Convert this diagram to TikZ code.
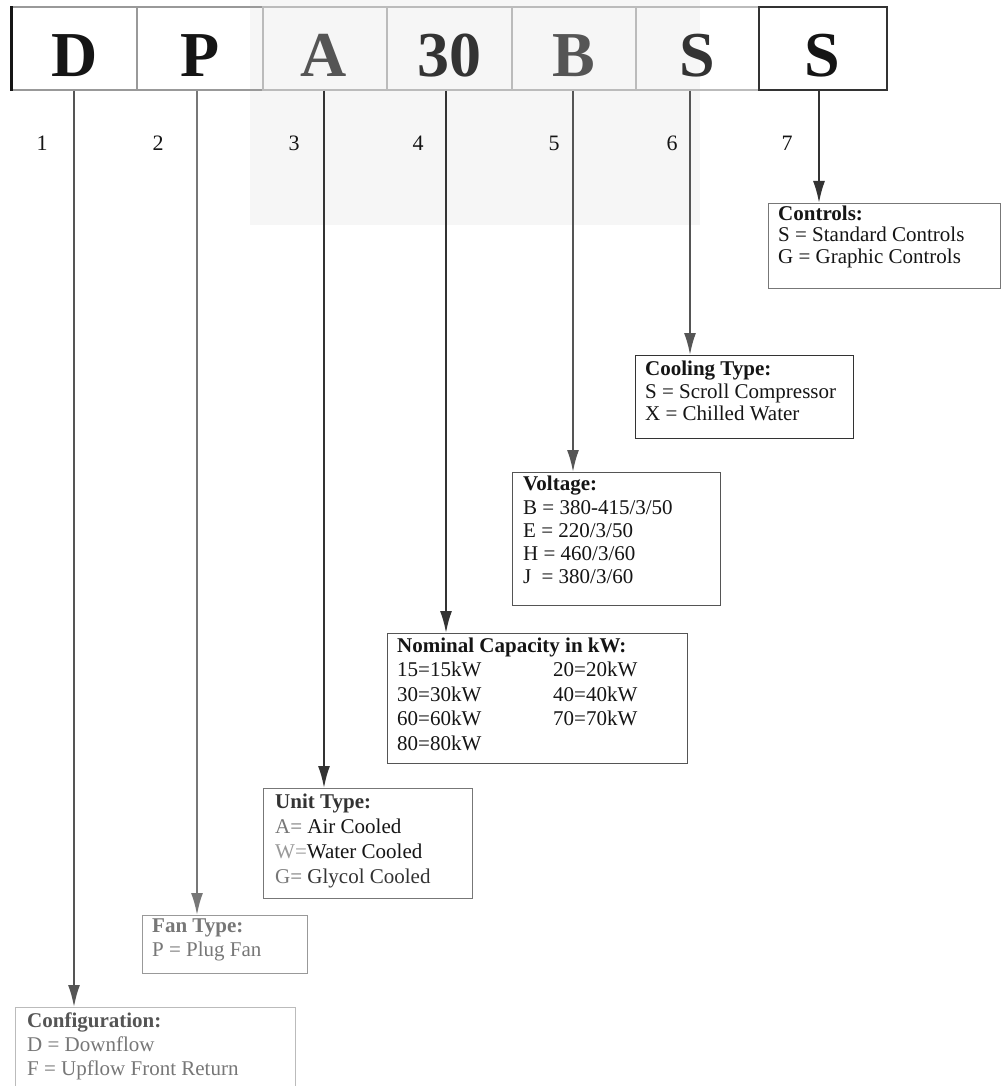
\documentclass[tikz,border=0pt]{standalone}
\usepackage{fontspec}
\setmainfont{Liberation Serif}
\usetikzlibrary{arrows.meta}
\definecolor{ink}{HTML}{151515}
\definecolor{dk}{HTML}{333333}
\definecolor{md}{HTML}{555555}
\definecolor{lt}{HTML}{777777}
\definecolor{vl}{HTML}{999999}
\definecolor{pale}{HTML}{BBBBBB}
\definecolor{haze}{HTML}{F6F6F6}
\begin{document}
\begin{tikzpicture}[x=1pt,y=-1pt,
  cell/.style={draw=#1, line width=1.5pt, minimum height=83pt, inner sep=0pt},
  big/.style={anchor=base, font=\fontsize{64}{70}\selectfont\bfseries, text=#1},
  num/.style={font=\fontsize{22}{26}\selectfont, text=ink},
  frame/.style={draw=#1, line width=1.4pt, anchor=north west, inner sep=0pt},
  txt/.style={anchor=north west, align=left, inner sep=0pt, text=#1},
  arr/.style={draw=#1, line width=2pt, -{Latex[length=22pt,width=12pt]}},
]
\useasboundingbox (0,0) rectangle (1002,1086);
\clip (0,0) rectangle (1002,1086);
\fill[white] (0,0) rectangle (1002,1086);
\fill[haze] (250,0) rectangle (700,225);

% code cells
\node[cell=vl, minimum width=125pt] (c1) at (74.5,48.5) {};
\node[cell=vl, minimum width=126pt] (c2) at (200,48.5) {};
\node[cell=pale, minimum width=124pt] (c3) at (325,48.5) {};
\node[cell=pale, minimum width=125pt] (c4) at (449.5,48.5) {};
\node[cell=pale, minimum width=124pt] (c5) at (574,48.5) {};
\node[cell=pale, minimum width=123pt] (c6) at (697.5,48.5) {};
\node[cell=dk, minimum width=128pt] (c7) at (823,48.5) {};
\draw[ink, line width=3pt] (c1.north west) -- (c1.south west);

\node[big=ink] (l1) at (75,77) {D};
\node[big=ink] (l2) at (200,77) {P};
\node[big=md] (l3) at (324,77) {A};
\node[big=dk] (l4) at (449,77) {30};
\node[big=md] (l5) at (574,77) {B};
\node[big=dk] (l6) at (697,77) {S};
\node[big=ink] (l7) at (822,77) {S};

% position numbers
\node[num] (n1) at (42,143) {1};
\node[num] (n2) at (158,143) {2};
\node[num] (n3) at (294,143) {3};
\node[num] (n4) at (418,143) {4};
\node[num] (n5) at (554,143) {5};
\node[num] (n6) at (672,143) {6};
\node[num] (n7) at (787,143) {7};

% description boxes
\node[frame=lt, minimum width=232pt, minimum height=85pt] (ctl) at (768,203) {};
\node[txt=ink, font=\fontsize{21}{21.7}\selectfont] (ctlt) at (778,205.5)
  {\textbf{Controls:}\\ S = Standard Controls\\ G = Graphic Controls};

\node[frame=dk, minimum width=218pt, minimum height=83pt] (cool) at (635,355) {};
\node[txt=ink, font=\fontsize{21}{22.5}\selectfont] (coolt) at (645,361)
  {\textbf{Cooling Type:}\\ S = Scroll Compressor\\ X = Chilled Water};

\node[frame=md, minimum width=208pt, minimum height=133pt] (volt) at (512,472) {};
\node[txt=ink, font=\fontsize{21}{23.3}\selectfont] (voltt) at (523,476)
  {\textbf{Voltage:}\\ B = 380-415/3/50\\ E = 220/3/50\\ H = 460/3/60\\ J\hspace{5pt} = 380/3/60};

\node[frame=md, minimum width=300pt, minimum height=130pt] (cap) at (387,633) {};
\node[txt=ink, font=\fontsize{21}{24.5}\selectfont] (capt) at (397,637.5)
  {\textbf{Nominal Capacity in kW:}\\
   \makebox[156pt][l]{15=15kW}20=20kW\\
   \makebox[156pt][l]{30=30kW}40=40kW\\
   \makebox[156pt][l]{60=60kW}70=70kW\\
   80=80kW};

\node[frame=lt, minimum width=209pt, minimum height=110pt] (unit) at (263,788) {};
\node[txt=dk, font=\fontsize{21}{25}\selectfont] (unitt) at (275,794)
  {\textbf{Unit Type:}\\ \textcolor{lt}{A=} \textcolor{ink}{Air Cooled}\\ \textcolor{vl}{W=}\textcolor{ink}{Water Cooled}\\ \textcolor{lt}{G=} Glycol Cooled};

\node[frame=vl, minimum width=165pt, minimum height=58pt] (fan) at (142,915) {};
\node[txt=lt, font=\fontsize{21}{23.3}\selectfont] (fant) at (152,919)
  {\textbf{Fan Type:}\\ P = Plug Fan};

\node[frame=pale, minimum width=280pt, minimum height=110pt] (cfg) at (15,1007) {};
\node[txt=lt, font=\fontsize{21}{24}\selectfont] (cfgt) at (27,1012.5)
  {\textbf{\textcolor{md}{Configuration:}}\\ D = Downflow\\ F = Upflow Front Return};

% connector start points under each cell
\coordinate (t1) at ([xshift=-0.5pt]c1.south);
\coordinate (t2) at ([xshift=-3pt]c2.south);
\coordinate (t3) at ([xshift=-1pt]c3.south);
\coordinate (t4) at ([xshift=-3.5pt]c4.south);
\coordinate (t5) at ([xshift=-1pt]c5.south);
\coordinate (t6) at ([xshift=-7.5pt]c6.south);
\coordinate (t7) at ([xshift=-4pt]c7.south);

\draw[arr=md] (t1) -- (t1 |- cfg.north);
\draw[arr=lt] (t2) -- (t2 |- fan.north);
\draw[arr=dk] (t3) -- (t3 |- unit.north);
\draw[arr=dk] (t4) -- (t4 |- cap.north);
\draw[arr=md] (t5) -- (t5 |- volt.north);
\draw[arr=md] (t6) -- (t6 |- cool.north);
\draw[arr=dk] (t7) -- (t7 |- ctl.north);
\end{tikzpicture}
\end{document}
